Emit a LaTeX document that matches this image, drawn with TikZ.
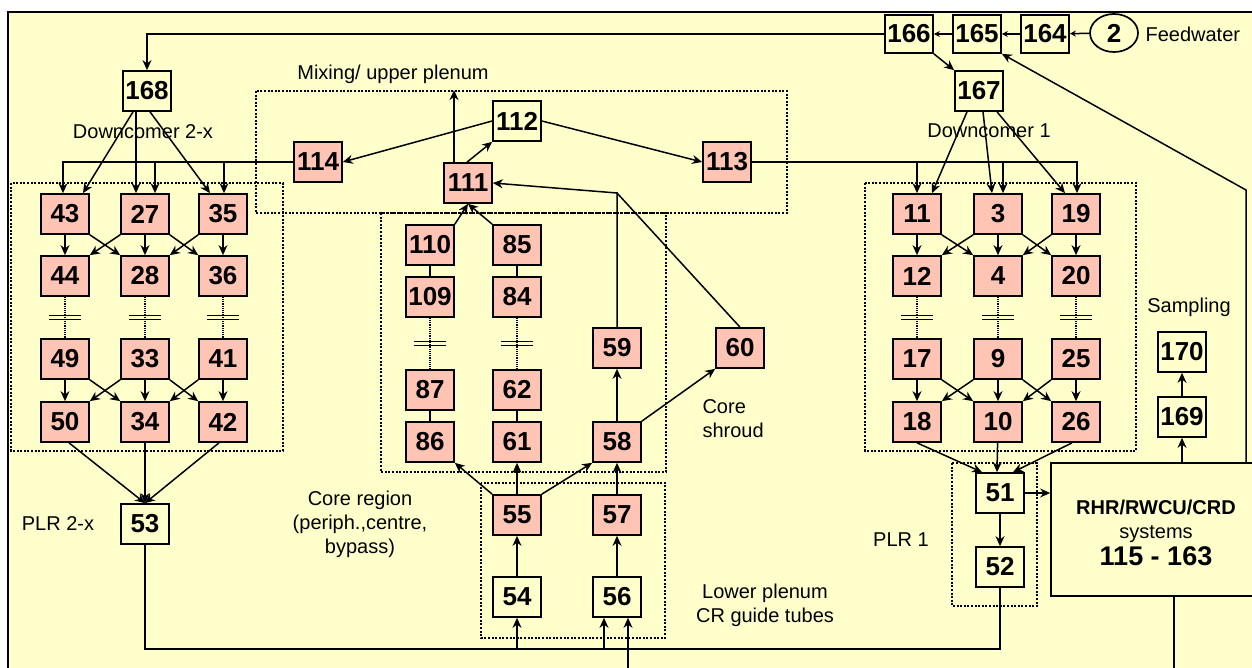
\documentclass[tikz,border=0pt]{standalone}
\usepackage{fontspec}
\setmainfont{Liberation Sans}
\usetikzlibrary{arrows.meta,shapes.geometric,calc}
\definecolor{bg}{RGB}{255,255,204}
\definecolor{rose}{RGB}{255,196,180}
\tikzset{>={Stealth[length=10pt,width=9pt]}}
\tikzset{
  vol/.style={draw,line width=1.7pt,minimum width=48pt,minimum height=40pt,inner sep=0pt,font=\bfseries\fontsize{26}{28}\selectfont},
  pvol/.style={vol,fill=rose},
  wvol/.style={vol,fill=bg},
  sysbox/.style={draw,line width=1.7pt,fill=bg,minimum width=211pt,minimum height=133pt},
  flow/.style={line width=1.5pt},
  region/.style={line width=2pt,dash pattern=on 2pt off 1.6pt},
  lbl/.style={font=\fontsize{20}{24}\selectfont,align=center},
  sm/.style={-{Stealth[length=6pt,width=6pt]}}
}

\begin{document}
\begin{tikzpicture}[x=1pt,y=-1pt]
  \useasboundingbox (0,0) rectangle (1252,668);
  \clip (0,0) rectangle (1252,668);
  % Background
  \fill[bg] (8,12) rectangle (1280,700);
  \draw[line width=2.2pt] (8,700) -- (8,12) -- (1280,12);

  % Regions
  \draw[region] (11,183) rectangle (283,451);
  \draw[region] (865,183) rectangle (1136,451);
  \draw[region] (256,91) rectangle (787,213);
  \draw[region] (381,213) rectangle (666,472);
  \draw[region] (481,483) rectangle (665,638);
  \draw[region] (952,463) rectangle (1037,606);

  % Volumes
  \foreach \n/\x/\y in {43/65/214,27/145/214,35/223/214,44/65/276,28/145/276,36/223/276,
      49/65/359,33/145/359,41/223/359,50/65/422,34/145/422,42/223/422,
      11/917/214,3/998/214,19/1076/214,12/917/276,4/998/276,20/1076/276,
      17/917/359,9/998/359,25/1076/359,18/917/422,10/998/422,26/1076/422,
      110/430/245,85/517/245,109/430/297,84/517/297,87/430/390,62/517/390,
      86/430/442,61/517/442,58/617/442,59/617/348,60/740/348,
      111/468/183,114/318/162,113/727/162,55/517/515,57/617/515}
    \node[pvol] (n\n) at (\x,\y) {\n};
  \foreach \n/\x/\y in {168/147/91,167/979/91,112/517/121,54/517/597,56/617/597,
      53/145/524,51/1000/493,52/1000/567,169/1182/417,170/1182/352}
    \node[wvol] (n\n) at (\x,\y) {\n};
  \foreach \n/\x in {166/909,165/977,164/1045}
    \node[wvol,minimum height=38pt] (n\n) at (\x,34) {\n};
  \node[draw,ellipse,line width=1.7pt,fill=bg,minimum width=48pt,minimum height=38pt,inner sep=0pt,
    font=\bfseries\fontsize{26}{28}\selectfont] (fw) at (1114,33) {2};
  \node[sysbox] (rhr) at (1156.5,529.5) {};
  \node[align=center,font=\fontsize{20}{24}\selectfont] at (1156,533)
    {\textbf{RHR/RWCU/CRD}\\systems\\[3pt]{\bfseries\fontsize{27}{30}\selectfont 115 - 163}};

  % Labels
  \node[lbl] at (393,74) {Mixing/ upper plenum};
  \node[lbl] at (143,132) {Downcomer 2-x};
  \node[lbl] at (989,131) {Downcomer 1};
  \node[lbl,anchor=west] at (1142,34) {Feedwater};
  \node[lbl] at (1189,307) {Sampling};
  \node[lbl,align=left,anchor=west] at (699,419) {Core\\shroud};
  \node[lbl] at (360,524) {Core region\\(periph.,centre,\\bypass)};
  \node[lbl] at (58,524) {PLR 2-x};
  \node[lbl] at (901,540) {PLR 1};
  \node[lbl] at (765,605) {Lower plenum\\CR guide tubes};

  % Feedwater
  \draw[flow,sm] (fw) -- (n164);
  \draw[flow,sm] (n164) -- (n165);
  \draw[flow,sm] (n165) -- (n166);
  \draw[flow,->] (n166.west) -| (n168.north);
  \draw[flow,->] (n166.south east) -- (n167.north west);
  \coordinate (rc) at (1246,190);
  \draw[flow,->] (rhr.north -| rc) -- (rc) -- (n165.south east);

  % Downcomers
  \draw[flow,->] ([xshift=-14]n168.south) -- ([xshift=18]n43.north);
  \draw[flow,->] ([xshift=-11]n168.south) -- ([xshift=-9]n27.north);
  \draw[flow,->] ([xshift=3]n168.south) -- ([xshift=-13]n35.north);
  \draw[flow,->] ([xshift=-12]n167.south) -- ([xshift=15]n11.north);
  \draw[flow,->] ([xshift=4]n167.south) -- ([xshift=-6]n3.north);
  \draw[flow,->] ([xshift=18]n167.south) -- ([xshift=-11]n19.north);
  \draw[flow,->] (n114.west) -| ([xshift=-2]n43.north);
  \coordinate (d2a) at (155,162);
  \coordinate (d2b) at (224,162);
  \draw[flow,->] (d2a) -- (d2a |- n27.north);
  \draw[flow,->] (d2b) -- (d2b |- n35.north);
  \draw[flow,->] (n113.east) -| ([xshift=1]n19.north);
  \coordinate (d1a) at (917,162);
  \coordinate (d1b) at (1003,162);
  \draw[flow,->] (d1a) -- (n11.north);
  \draw[flow,->] (d1b) -- (d1b |- n3.north);
  \foreach \a/\b in {43/44,27/28,35/36,49/50,33/34,41/42,11/12,3/4,19/20,17/18,9/10,25/26}
    \draw[flow,->] (n\a) -- (n\b);
  \foreach \a/\b in {43/28,27/36,49/34,33/42,11/4,3/20,17/10,9/26}
    \draw[flow,->] (n\a.south east) -- (n\b.north west);
  \foreach \a/\b in {27/44,35/28,33/50,41/34,3/12,19/4,9/18,25/10}
    \draw[flow,->] (n\a.south west) -- (n\b.north east);
  \foreach \a/\b in {44/49,28/33,36/41,12/17,4/9,20/25,109/87,84/62}{
    \draw[densely dotted,line width=1.2pt] (n\a) -- coordinate (m) (n\b);
    \draw[line width=1.2pt] ([shift={(-16,-2)}]m) -- ++(32,0) ([shift={(-16,2)}]m) -- ++(32,0);
  }

  % Upper plenum and core
  \draw[flow,->] ([xshift=-14]n111.north) -- ++(0,-72);
  \draw[flow,->] ([xshift=-1]n111.north) -- (n112.south west);
  \draw[flow,->] (n112.west) -- (n114.east);
  \draw[flow,->] (n112.east) -- (n113.west);
  \draw[flow,->] (n110.north east) -- (n111.south);
  \draw[flow,->] (n85.north west) -- (n111.south);
  \coordinate (cs) at (617,193);
  \draw[flow,->] (n59.north) -- (cs) -- (n111.east);
  \draw[flow] (n60.north) -- (cs);
  \foreach \a/\b in {110/109,87/86,85/84,62/61}
    \draw[flow] (n\a) -- (n\b);

  % Lower plenum
  \draw[flow,->] (n55.north west) -- (n86.south east);
  \draw[flow,->] (n55) -- (n61);
  \draw[flow,->] (n55.north east) -- (n58.south west);
  \draw[flow,->] (n57) -- (n58);
  \draw[flow,->] (n58) -- (n59);
  \draw[flow,->] (n58.north east) -- (n60.south west);
  \draw[flow,->] (n54) -- (n55);
  \draw[flow,->] (n56) -- (n57);

  % Recirculation loops
  \draw[flow,->] ([xshift=4]n50.south) -- (n53.north);
  \draw[flow,->] (n34) -- (n53);
  \draw[flow,->] ([xshift=-4]n42.south) -- (n53.north);
  \draw[flow,->] (n18.south) -- ([xshift=-18]n51.north);
  \draw[flow,->] (n10) -- ([xshift=-3]n51.north);
  \draw[flow,->] ([xshift=-4]n26.south) -- ([xshift=13]n51.north);
  \draw[flow,->] (n51) -- (n52);
  \draw[flow,->] (n51.east) -- (n51.east -| rhr.west);
  \draw[flow,->] (rhr.north -| n169) -- (n169);
  \draw[flow,->] (n169) -- (n170);
  \coordinate (bl) at (145,649);
  \coordinate (br) at (1000,649);
  \draw[flow] (n53.south) -- (bl) -- (br) -- (n52.south);
  \coordinate (b54) at (517,649);
  \coordinate (b56) at (604,649);
  \coordinate (b56r) at (628,690);
  \draw[flow,->] (b54) -- (n54);
  \draw[flow,->] (b56) -- (b56 |- n56.south);
  \draw[flow,->] (b56r) -- (b56r |- n56.south);
  \draw[flow] ([xshift=17.5]rhr.south) -- ++(0,100);
\end{tikzpicture}
\end{document}
